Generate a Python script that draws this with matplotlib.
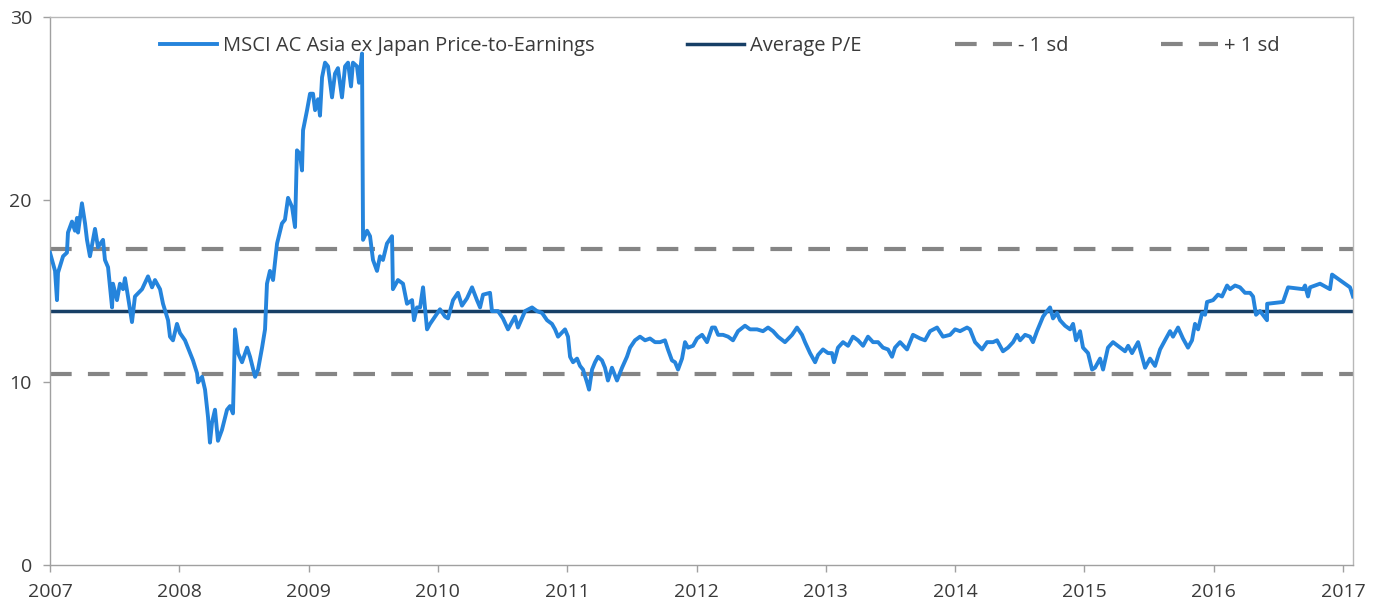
import matplotlib
matplotlib.use("Agg")
import matplotlib.pyplot as plt

plt.rcParams['font.family'] = ['Open Sans', 'DejaVu Sans']

# Data (decimal year, P/E)
years = [
    2007.000, 2007.039, 2007.054, 2007.062, 2007.101, 2007.131, 2007.139, 2007.170, 2007.193, 2007.209,
    2007.217, 2007.247, 2007.271, 2007.286, 2007.309, 2007.348, 2007.371, 2007.410, 2007.425, 2007.449,
    2007.480, 2007.487, 2007.518, 2007.541, 2007.565, 2007.580, 2007.603, 2007.634, 2007.657, 2007.712,
    2007.758, 2007.789, 2007.812, 2007.851, 2007.874, 2007.913, 2007.928, 2007.951, 2007.982, 2008.005,
    2008.044, 2008.083, 2008.106, 2008.137, 2008.145, 2008.176, 2008.199, 2008.222, 2008.237, 2008.253,
    2008.276, 2008.299, 2008.330, 2008.369, 2008.392, 2008.415, 2008.431, 2008.454, 2008.485, 2008.524,
    2008.547, 2008.586, 2008.609, 2008.640, 2008.663, 2008.678, 2008.701, 2008.725, 2008.756, 2008.794,
    2008.817, 2008.841, 2008.872, 2008.895, 2008.910, 2008.933, 2008.949, 2008.957, 2008.988, 2009.011,
    2009.034, 2009.050, 2009.073, 2009.088, 2009.104, 2009.127, 2009.150, 2009.181, 2009.204, 2009.227,
    2009.258, 2009.282, 2009.305, 2009.328, 2009.343, 2009.374, 2009.390, 2009.413, 2009.421, 2009.452,
    2009.475, 2009.498, 2009.529, 2009.552, 2009.575, 2009.606, 2009.645, 2009.652, 2009.691, 2009.730,
    2009.761, 2009.800, 2009.815, 2009.838, 2009.862, 2009.885, 2009.916, 2009.939, 2009.978, 2010.016,
    2010.055, 2010.078, 2010.117, 2010.155, 2010.186, 2010.225, 2010.264, 2010.302, 2010.326, 2010.349,
    2010.403, 2010.418, 2010.465, 2010.503, 2010.542, 2010.573, 2010.596, 2010.619, 2010.674, 2010.728,
    2010.766, 2010.805, 2010.844, 2010.882, 2010.906, 2010.929, 2010.983, 2011.006, 2011.022, 2011.045,
    2011.076, 2011.099, 2011.122, 2011.153, 2011.169, 2011.192, 2011.215, 2011.238, 2011.269, 2011.292,
    2011.315, 2011.346, 2011.385, 2011.424, 2011.462, 2011.486, 2011.524, 2011.563, 2011.602, 2011.640,
    2011.679, 2011.718, 2011.756, 2011.779, 2011.810, 2011.834, 2011.857, 2011.888, 2011.911, 2011.934,
    2011.973, 2012.004, 2012.043, 2012.081, 2012.120, 2012.143, 2012.167, 2012.205, 2012.244, 2012.282,
    2012.321, 2012.375, 2012.414, 2012.468, 2012.514, 2012.553, 2012.592, 2012.630, 2012.684, 2012.739,
    2012.777, 2012.816, 2012.839, 2012.878, 2012.917, 2012.940, 2012.978, 2013.017, 2013.048, 2013.063,
    2013.094, 2013.133, 2013.172, 2013.210, 2013.249, 2013.288, 2013.326, 2013.365, 2013.404, 2013.442,
    2013.481, 2013.512, 2013.535, 2013.574, 2013.628, 2013.674, 2013.729, 2013.767, 2013.806, 2013.860,
    2013.906, 2013.961, 2014.000, 2014.038, 2014.092, 2014.115, 2014.154, 2014.208, 2014.247, 2014.293,
    2014.324, 2014.347, 2014.370, 2014.409, 2014.448, 2014.479, 2014.502, 2014.541, 2014.579, 2014.602,
    2014.633, 2014.680, 2014.711, 2014.734, 2014.757, 2014.788, 2014.811, 2014.850, 2014.889, 2014.912,
    2014.935, 2014.966, 2014.989, 2015.028, 2015.059, 2015.082, 2015.121, 2015.144, 2015.182, 2015.221,
    2015.276, 2015.314, 2015.338, 2015.368, 2015.391, 2015.415, 2015.446, 2015.469, 2015.507, 2015.546,
    2015.585, 2015.623, 2015.662, 2015.685, 2015.724, 2015.762, 2015.801, 2015.832, 2015.855, 2015.879,
    2015.910, 2015.933, 2015.948, 2015.995, 2016.033, 2016.064, 2016.103, 2016.126, 2016.165, 2016.203,
    2016.242, 2016.281, 2016.304, 2016.327, 2016.358, 2016.412, 2016.413, 2016.536, 2016.575, 2016.691,
    2016.706, 2016.729, 2016.745, 2016.822, 2016.899, 2016.915, 2017.054, 2017.077,
]
pe = [
    17.1, 16.1, 14.5, 16.0, 16.9, 17.1, 18.2, 18.8, 18.3, 19.0,
    18.2, 19.8, 18.7, 17.8, 16.9, 18.4, 17.4, 17.8, 16.7, 16.3,
    14.1, 15.4, 14.5, 15.4, 15.1, 15.7, 14.7, 13.3, 14.7, 15.1,
    15.8, 15.2, 15.6, 15.1, 14.3, 13.4, 12.5, 12.3, 13.2, 12.7,
    12.3, 11.6, 11.2, 10.5, 10.0, 10.3, 9.6, 8.1, 6.7, 7.8,
    8.5, 6.8, 7.4, 8.5, 8.7, 8.3, 12.9, 11.6, 11.1, 11.9,
    11.4, 10.3, 10.7, 11.9, 12.9, 15.4, 16.1, 15.6, 17.6, 18.7,
    18.9, 20.1, 19.6, 18.5, 22.7, 22.5, 21.6, 23.8, 24.9, 25.8,
    25.8, 24.9, 25.5, 24.6, 26.7, 27.5, 27.3, 25.6, 26.9, 27.2,
    25.6, 27.3, 27.5, 26.2, 27.5, 27.3, 26.4, 28.0, 17.8, 18.3,
    18.0, 16.7, 16.1, 16.9, 16.7, 17.6, 18.0, 15.1, 15.6, 15.4,
    14.3, 14.5, 13.4, 14.1, 14.1, 15.2, 12.9, 13.2, 13.6, 14.0,
    13.6, 13.5, 14.5, 14.9, 14.2, 14.6, 15.2, 14.5, 14.1, 14.8,
    14.9, 13.9, 13.9, 13.5, 12.9, 13.3, 13.6, 13.0, 13.9, 14.1,
    13.9, 13.8, 13.4, 13.2, 12.9, 12.5, 12.9, 12.5, 11.4, 11.1,
    11.3, 10.9, 10.7, 10.0, 9.6, 10.7, 11.1, 11.4, 11.2, 10.8,
    10.1, 10.8, 10.1, 10.8, 11.4, 11.9, 12.3, 12.5, 12.3, 12.4,
    12.2, 12.2, 12.3, 11.8, 11.2, 11.1, 10.7, 11.3, 12.2, 11.9,
    12.0, 12.4, 12.6, 12.2, 13.0, 13.0, 12.6, 12.6, 12.5, 12.3,
    12.8, 13.1, 12.9, 12.9, 12.8, 13.0, 12.8, 12.5, 12.2, 12.6,
    13.0, 12.6, 12.2, 11.6, 11.1, 11.5, 11.8, 11.6, 11.6, 11.1,
    11.9, 12.2, 12.0, 12.5, 12.3, 12.0, 12.5, 12.2, 12.2, 11.9,
    11.8, 11.4, 11.9, 12.2, 11.8, 12.6, 12.4, 12.3, 12.8, 13.0,
    12.5, 12.6, 12.9, 12.8, 13.0, 12.9, 12.2, 11.8, 12.2, 12.2,
    12.3, 12.0, 11.7, 11.9, 12.2, 12.6, 12.3, 12.6, 12.5, 12.2,
    12.8, 13.6, 13.9, 14.1, 13.5, 13.8, 13.4, 13.1, 12.9, 13.2,
    12.3, 12.8, 11.9, 11.6, 10.7, 10.8, 11.3, 10.7, 11.9, 12.2,
    11.9, 11.7, 12.0, 11.6, 11.9, 12.2, 11.4, 10.8, 11.3, 10.9,
    11.8, 12.3, 12.8, 12.5, 13.0, 12.4, 11.9, 12.3, 13.2, 12.9,
    13.8, 13.7, 14.4, 14.5, 14.8, 14.7, 15.3, 15.1, 15.3, 15.2,
    14.9, 14.9, 14.7, 13.7, 13.9, 13.4, 14.3, 14.4, 15.2, 15.1,
    15.3, 14.7, 15.2, 15.4, 15.1, 15.9, 15.2, 14.7,
]
average_pe = 13.88
minus_1sd = 10.44
plus_1sd = 17.32

x_ticks = [2007, 2008, 2009, 2010, 2011, 2012, 2013, 2014, 2015, 2016, 2017]
y_ticks = [0, 10, 20, 30]
x_start, x_end = 2007.0, 2017.077

fig = plt.figure(figsize=(13.8, 6.06), dpi=100)
ax = fig.add_axes([50 / 1380, 1 - 565 / 606, 1303 / 1380, 548 / 606])

blue = '#2584dc'
navy = '#173f66'
grey = '#858585'

ax.plot(years, pe, color=blue, lw=2.8, solid_joinstyle='round',
        label='MSCI AC Asia ex Japan Price-to-Earnings', zorder=3)
ax.plot([x_start, x_end], [average_pe, average_pe], color=navy, lw=2.5,
        label='Average P/E', zorder=2)
ax.plot([x_start, x_end], [minus_1sd, minus_1sd], color=grey, lw=3.0,
        dashes=(5.2, 3.9), label='- 1 sd', zorder=1)
ax.plot([x_start, x_end], [plus_1sd, plus_1sd], color=grey, lw=3.0,
        dashes=(5.2, 3.9), label='+ 1 sd', zorder=1)

ax.set_xlim(x_start, x_end)
ax.set_ylim(0, 30)
ax.set_xticks(x_ticks)
ax.set_xticklabels([str(t) for t in x_ticks])
ax.set_yticks(y_ticks)
ax.set_yticklabels([str(t) for t in y_ticks])

for s in ax.spines.values():
    s.set_color('#b8b8b8')
    s.set_linewidth(1.0)
ax.spines['left'].set_color('#a0a0a0')
ax.spines['bottom'].set_color('#a0a0a0')

ax.tick_params(axis='both', which='both', direction='out', length=5,
               width=1, color='#a0a0a0', labelcolor='#3a3a3a', labelsize=14)
ax.tick_params(axis='x', pad=8)
ax.tick_params(axis='y', pad=8)

leg = ax.legend(loc='center', bbox_to_anchor=(0.514, 0.947), ncol=4,
                frameon=False, fontsize=14.5, handlelength=2.84,
                handletextpad=0.3, columnspacing=4.6)
for t in leg.get_texts():
    t.set_color('#3a3a3a')

fig.savefig('out.png', dpi=100, facecolor='white')
